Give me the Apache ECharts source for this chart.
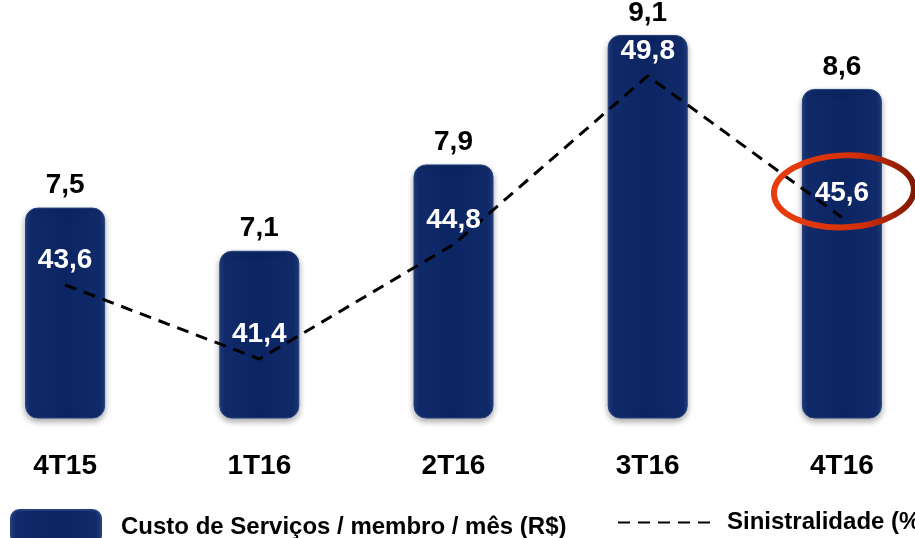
<!DOCTYPE html>
<html>
<head>
<meta charset="utf-8">
<script src="https://cdn.jsdelivr.net/npm/echarts@6/dist/echarts.min.js"></script>
<style>
  html, body { margin: 0; padding: 0; background: #fff; overflow: hidden; }
  /* the plot runs a little past both edges of the picture */
  #chart { width: 971px; height: 538px; margin-left: -32px; }
</style>
</head>
<body>
<div id="chart"></div>
<script>
// quarters
const categories = ['4T15', '1T16', '2T16', '3T16', '4T16']
// Custo de Serviços / membro / mês (R$)
const custo = [7.5, 7.1, 7.9, 9.1, 8.6]
// Sinistralidade (%)
const sinistralidade = [43.6, 41.4, 44.8, 49.8, 45.6]

const fontFamily = "'Liberation Sans', Arial, sans-serif"
const shift = 32
const virgula = v => v.toFixed(1).replace('.', ',')

let myChart = echarts.init(document.getElementById('chart'))

let barColor = new echarts.graphic.LinearGradient(0, 0, 1, 0, [
  {offset: 0, color: '#1f3c80'},
  {offset: 0.07, color: '#112b6a'},
  {offset: 0.5, color: '#0b2462'},
  {offset: 0.93, color: '#112b6a'},
  {offset: 1, color: '#1f3c80'}
])

let option = {
  animation: false,
  textStyle: { fontFamily: fontFamily },
  grid: {
    top: 0,
    left: 0,
    right: 0,
    bottom: 120
  },
  legend: [
    {
      data: ['Custo de Serviços / membro / mês (R$)'],
      left: 10 + shift,
      top: 509,
      padding: 0,
      itemWidth: 90,
      itemHeight: 34,
      textStyle: {
        fontSize: 24,
        fontWeight: 'bold',
        color: '#000',
        padding: [0, 0, 0, 15]
      }
    },
    {
      data: ['Sinistralidade (%)'],
      left: 617 + shift,
      top: 509,
      padding: 0,
      itemWidth: 100,
      itemHeight: 34,
      textStyle: {
        fontSize: 24,
        fontWeight: 'bold',
        color: '#000',
        padding: [0, 0, 0, 4]
      }
    }
  ],
  xAxis: {
    type: 'category',
    data: categories,
    axisLine: { show: false },
    axisTick: { show: false },
    axisLabel: {
      margin: 34,
      fontSize: 28,
      fontWeight: 'bold',
      color: '#000'
    }
  },
  yAxis: [
    {
      type: 'value',
      min: 5.55,
      max: 9.424,
      show: false,
      splitLine: { show: false }
    },
    {
      type: 'value',
      min: 39.65,
      max: 52.05,
      show: false,
      splitLine: { show: false }
    }
  ],
  series: [
    {
      name: 'Custo de Serviços / membro / mês (R$)',
      type: 'bar',
      data: custo,
      barWidth: 80,
      itemStyle: {
        color: barColor,
        borderRadius: 12,
        borderColor: '#24417f',
        borderWidth: 1,
        shadowColor: 'rgba(0, 0, 0, 0.35)',
        shadowBlur: 6,
        shadowOffsetY: 3
      },
      label: {
        show: true,
        position: 'top',
        distance: 8,
        fontSize: 28,
        fontWeight: 'bold',
        color: '#000',
        formatter: p => virgula(p.value)
      }
    },
    {
      name: 'Sinistralidade (%)',
      type: 'line',
      yAxisIndex: 1,
      data: sinistralidade,
      symbol: 'circle',
      symbolSize: 1,
      showSymbol: true,
      z: 5,
      itemStyle: { color: 'rgba(0, 0, 0, 0)' },
      lineStyle: {
        color: '#000',
        width: 3,
        type: [12, 8]
      },
      label: {
        show: true,
        position: 'top',
        distance: 10,
        fontSize: 28,
        fontWeight: 'bold',
        color: '#fff',
        formatter: p => virgula(p.value)
      }
    }
  ]
}
myChart.setOption(option)

// red circle round the last quarter's label
let pt = myChart.convertToPixel({seriesIndex: 1}, [categories.length - 1, sinistralidade[sinistralidade.length - 1]])
myChart.setOption({
  graphic: [
    {
      type: 'ellipse',
      z: 10,
      shape: { cx: pt[0] + 2, cy: pt[1] - 26, rx: 70, ry: 36 },
      rotation: 0.04,
      originX: pt[0],
      originY: pt[1] - 26,
      style: {
        fill: 'none',
        lineWidth: 6,
        stroke: new echarts.graphic.LinearGradient(0, 0, 1, 0, [
          {offset: 0, color: '#ea3d10'},
          {offset: 0.6, color: '#d33008'},
          {offset: 1, color: '#7c1600'}
        ])
      }
    }
  ]
})
</script>
</body>
</html>
